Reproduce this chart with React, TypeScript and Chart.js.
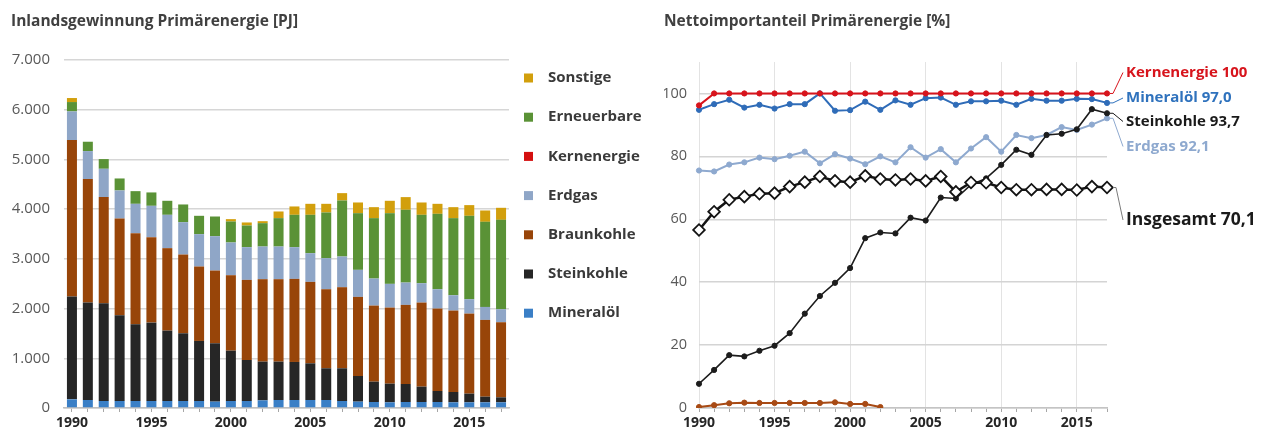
import { useEffect, useRef } from "react";
import { Chart, registerables } from "chart.js";

Chart.register(...registerables);

const FONT = "'Open Sans', sans-serif";

// ---------- Left chart: Inlandsgewinnung Primärenergie [PJ] ----------
const years = [1990, 1991, 1992, 1993, 1994, 1995, 1996, 1997, 1998, 1999, 2000, 2001, 2002, 2003, 2004, 2005, 2006, 2007, 2008, 2009, 2010, 2011, 2012, 2013, 2014, 2015, 2016, 2017];

const mineraloel = [174, 161, 141, 141, 141, 141, 141, 141, 141, 128, 141, 141, 154, 161, 161, 161, 161, 141, 128, 121, 114, 121, 121, 121, 114, 114, 114, 114];
const steinkohle = [2068, 1960, 1966, 1725, 1544, 1577, 1416, 1362, 1208, 1174, 1013, 825, 779, 772, 765, 738, 638, 658, 516, 409, 376, 362, 309, 221, 208, 175, 114, 101];
const braunkohle = [3147, 2483, 2135, 1946, 1832, 1718, 1658, 1584, 1497, 1463, 1517, 1611, 1658, 1658, 1671, 1638, 1590, 1631, 1591, 1530, 1530, 1591, 1691, 1658, 1638, 1610, 1544, 1510];
const erdgas = [577, 564, 570, 564, 590, 631, 671, 651, 651, 691, 658, 658, 657, 657, 638, 577, 624, 617, 544, 544, 477, 449, 389, 389, 308, 289, 262, 262];
const kernenergie = [0, 0, 0, 0, 0, 0, 0, 0, 0, 0, 0, 0, 0, 0, 0, 0, 0, 0, 0, 0, 0, 0, 0, 0, 0, 0, 0, 0];
const erneuerbare = [188, 188, 195, 241, 255, 269, 282, 356, 369, 396, 423, 436, 470, 571, 651, 772, 920, 1127, 1140, 1215, 1422, 1464, 1376, 1517, 1551, 1678, 1711, 1798];
const sonstige = [81, 0, 0, 0, 0, 0, 0, 0, 0, 0, 47, 61, 40, 134, 168, 221, 174, 148, 215, 221, 249, 255, 248, 201, 221, 215, 228, 242];

const leftYTicks = [0, 1000, 2000, 3000, 4000, 5000, 6000, 7000];

// ---------- Right chart: Nettoimportanteil Primärenergie [%] ----------
const importKern = [96.2, 100, 100, 100, 100, 100, 100, 100, 100, 100, 100, 100, 100, 100, 100, 100, 100, 100, 100, 100, 100, 100, 100, 100, 100, 100, 100, 100];
const importMineraloel = [94.8, 96.6, 98.0, 95.5, 96.4, 95.2, 96.6, 96.6, 100, 94.5, 94.7, 97.4, 94.8, 97.8, 96.4, 98.5, 98.7, 96.4, 97.5, 97.5, 97.7, 96.4, 98.3, 97.7, 97.7, 98.3, 98.2, 97.0];
const importErdgas = [75.5, 75.2, 77.4, 78.1, 79.6, 79.1, 80.2, 81.5, 77.8, 80.7, 79.3, 77.5, 80.0, 78.1, 82.9, 79.6, 82.3, 78.1, 82.5, 86.1, 81.5, 86.8, 85.8, 86.8, 89.3, 88.4, 90.1, 92.1];
const importSteinkohle = [7.7, 12.1, 16.8, 16.4, 18.2, 19.8, 23.8, 30.0, 35.6, 39.8, 44.5, 54.0, 55.8, 55.5, 60.5, 59.6, 66.9, 66.6, 71.0, 73.0, 77.3, 82.1, 80.5, 86.8, 87.2, 88.6, 95.0, 93.7];
const importInsgesamt = [56.6, 62.4, 66.2, 67.2, 68.1, 68.3, 70.4, 71.8, 73.6, 72.2, 71.8, 73.8, 72.8, 72.5, 72.8, 72.2, 73.6, 68.7, 71.7, 71.6, 70.1, 69.4, 69.4, 69.5, 69.5, 69.3, 70.4, 70.1];
const importBraunkohle = [0.3, 0.9, 1.5, 1.7, 1.6, 1.6, 1.6, 1.6, 1.6, 1.8, 1.3, 1.3, 0.3, null, null, null, null, null, null, null, null, null, null, null, null, null, null, null];

const endLabelSeries = ["Kernenergie", "Mineralöl", "Steinkohle", "Erdgas", "Insgesamt"];
const endLabelTexts = ["Kernenergie 100", "Mineralöl 97,0", "Steinkohle 93,7", "Erdgas 92,1", "Insgesamt 70,1"];

const formatDE = (v: number) => String(v).replace(/\B(?=(\d{3})+(?!\d))/g, ".");

const sideLegendPlugin = {
  id: "sideLegend",
  afterDraw(chart: any) {
    const { ctx, chartArea } = chart;
    const ds = chart.data.datasets.slice().reverse();
    ctx.save();
    ctx.font = `bold 15px ${FONT}`;
    ctx.textBaseline = "middle";
    ctx.textAlign = "left";
    ds.forEach((d: any, i: number) => {
      const y = chartArea.top + 18 + i * 39.2;
      ctx.fillStyle = d.backgroundColor;
      ctx.fillRect(chartArea.right + 15, y - 4.5, 9, 9);
      ctx.fillStyle = "#3a3a3a";
      ctx.fillText(d.label, chartArea.right + 39, y);
    });
    ctx.restore();
  },
};

const endLabelStyle: Record<string, { color: string; line: string; dy: number; size: number }> = {
  Kernenergie: { color: "#d7141c", line: "#d7141c", dy: 10.5, size: 15 },
  "Mineralöl": { color: "#2f72bd", line: "#2f72bd", dy: 36, size: 15 },
  Steinkohle: { color: "#1a1a1a", line: "#1a1a1a", dy: 59.5, size: 15 },
  Erdgas: { color: "#8ea9cf", line: "#8ea9cf", dy: 84.5, size: 15 },
  Insgesamt: { color: "#1a1a1a", line: "#7a7a7a", dy: 158, size: 17.5 },
};

const endLabelPlugin = {
  id: "endLabels",
  afterDraw(chart: any) {
    const { ctx, chartArea } = chart;
    ctx.save();
    endLabelSeries.forEach((name, k) => {
      const idx = chart.data.datasets.findIndex((d: any) => d.label === name);
      if (idx < 0) return;
      const meta = chart.getDatasetMeta(idx);
      const pt = meta.data[meta.data.length - 1];
      const st = endLabelStyle[name];
      const xe = pt.x;
      const ye = pt.y;
      const xt = chartArea.right + 19;
      const yt = chartArea.top + st.dy;
      const start = name === "Insgesamt" ? 6 : 3;
      ctx.strokeStyle = st.line;
      ctx.lineWidth = 1;
      ctx.beginPath();
      ctx.moveTo(xe + start, ye);
      ctx.lineTo(xe + start + 3, ye);
      ctx.lineTo(xt - 3, yt);
      ctx.stroke();
      ctx.font = `bold ${st.size}px ${FONT}`;
      ctx.fillStyle = st.color;
      ctx.textBaseline = "middle";
      ctx.textAlign = "left";
      ctx.fillText(endLabelTexts[k], xt, yt);
    });
    ctx.restore();
  },
};

function LeftChart() {
  const ref = useRef<HTMLCanvasElement | null>(null);
  useEffect(() => {
    if (!ref.current) return;
    const chart = new Chart(ref.current, {
      type: "bar",
      data: {
        labels: years.map(String),
        datasets: [
          { label: "Mineralöl", data: mineraloel, backgroundColor: "#3a7fc6" },
          { label: "Steinkohle", data: steinkohle, backgroundColor: "#262626" },
          { label: "Braunkohle", data: braunkohle, backgroundColor: "#984509" },
          { label: "Erdgas", data: erdgas, backgroundColor: "#8fa6c7" },
          { label: "Kernenergie", data: kernenergie, backgroundColor: "#d40f0f" },
          { label: "Erneuerbare", data: erneuerbare, backgroundColor: "#5a9236" },
          { label: "Sonstige", data: sonstige, backgroundColor: "#d29f0c" },
        ],
      },
      options: {
        animation: false,
        responsive: true,
        maintainAspectRatio: false,
        layout: { padding: { left: 11, right: 156, top: 0, bottom: 0 } },
        datasets: { bar: { barPercentage: 0.63, categoryPercentage: 1.0, borderWidth: 0 } },
        plugins: {
          legend: { display: false },
          tooltip: { enabled: false },
          title: {
            display: true,
            text: "Inlandsgewinnung Primärenergie [PJ]",
            align: "start",
            color: "#404040",
            font: { family: FONT, size: 15.5, weight: "bold" },
            padding: { top: 12.7, bottom: 28.7 },
          },
        },
        scales: {
          x: {
            stacked: true,
            offset: true,
            grid: { display: true, offset: false, color: "transparent", tickColor: "#a6a6a6", tickLength: 4, drawTicks: true },
            border: { display: true, color: "#bfbfbf", width: 1.5 },
            ticks: {
              autoSkip: false,
              maxRotation: 0,
              padding: 3,
              color: "#262626",
              font: { family: FONT, size: 14, weight: "bold" },
              callback: (_v: any, i: number) => (years[i] % 5 === 0 ? String(years[i]) : ""),
            },
            afterFit: (s: any) => { s.height = 26; },
          },
          y: {
            stacked: true,
            min: 0,
            max: 7000,
            afterBuildTicks: (s: any) => { s.ticks = leftYTicks.map((v) => ({ value: v })); },
            grid: { color: "#d6d6d6", lineWidth: 1.5, drawTicks: false },
            border: { display: false },
            ticks: {
              padding: 14,
              color: "#595959",
              font: { family: FONT, size: 15 },
              callback: (v: any) => formatDE(Number(v)),
            },
            afterFit: (s: any) => { s.width = 53; },
          },
        },
      },
      plugins: [sideLegendPlugin],
    } as any);
    return () => chart.destroy();
  }, []);
  return (
    <div style={{ position: "absolute", left: 0, top: 0, width: 665, height: 434 }}>
      <canvas ref={ref} />
    </div>
  );
}

function RightChart() {
  const ref = useRef<HTMLCanvasElement | null>(null);
  useEffect(() => {
    if (!ref.current) return;
    const pointSeries = (label: string, data: any[], color: string, width = 2) => ({
      label,
      data,
      borderColor: color,
      backgroundColor: color,
      borderWidth: width,
      pointRadius: 2.6,
      pointBackgroundColor: color,
      pointBorderColor: color,
      pointBorderWidth: 1,
      tension: 0,
      spanGaps: false,
    });
    const chart = new Chart(ref.current, {
      type: "line",
      data: {
        labels: years.map(String),
        datasets: [
          {
            label: "Insgesamt",
            data: importInsgesamt,
            borderColor: "#141414",
            backgroundColor: "#ffffff",
            borderWidth: 2.5,
            pointStyle: "rectRot",
            pointRadius: 5.8,
            pointBackgroundColor: "#ffffff",
            pointBorderColor: "#141414",
            pointBorderWidth: 1.8,
            tension: 0,
          },
          pointSeries("Kernenergie", importKern, "#d7141c"),
          pointSeries("Mineralöl", importMineraloel, "#2f6cb8"),
          pointSeries("Steinkohle", importSteinkohle, "#1c1c1c", 1.6),
          pointSeries("Erdgas", importErdgas, "#8ea9cf"),
          pointSeries("Braunkohle", importBraunkohle, "#a84a14"),
        ],
      },
      options: {
        animation: false,
        responsive: true,
        maintainAspectRatio: false,
        layout: { padding: { left: 24, right: 154, top: 0, bottom: 0 } },
        plugins: {
          legend: { display: false },
          tooltip: { enabled: false },
          title: {
            display: true,
            text: "Nettoimportanteil Primärenergie [%]",
            align: "start",
            color: "#404040",
            font: { family: FONT, size: 15.5, weight: "bold" },
            padding: { top: 12.7, bottom: 30.7 },
          },
        },
        scales: {
          x: {
            offset: false,
            grid: {
              display: true,
              color: (c: any) => (c.index !== undefined && years[c.index] % 5 === 0 ? "#e3e3e3" : "transparent"),
              tickColor: "#a6a6a6",
              tickLength: 4,
              drawTicks: true,
            },
            border: { display: true, color: "#c4c4c4", width: 1.5 },
            ticks: {
              autoSkip: false,
              maxRotation: 0,
              padding: 3,
              color: "#262626",
              font: { family: FONT, size: 14, weight: "bold" },
              callback: (_v: any, i: number) => (years[i] % 5 === 0 ? String(years[i]) : ""),
            },
            afterFit: (s: any) => { s.height = 26; },
          },
          y: {
            min: 0,
            max: 110,
            grid: { color: "#d4d4d4", lineWidth: 1.5, drawTicks: false },
            border: { display: false },
            ticks: {
              stepSize: 20,
              includeBounds: false,
              padding: 12,
              color: "#595959",
              font: { family: FONT, size: 14.5 },
            },
            afterFit: (s: any) => { s.width = 35; },
          },
        },
      },
      plugins: [endLabelPlugin],
    } as any);
    return () => chart.destroy();
  }, []);
  return (
    <div style={{ position: "absolute", left: 640, top: 0, width: 621, height: 434 }}>
      <canvas ref={ref} />
    </div>
  );
}

export default function App() {
  return (
    <div style={{ position: "absolute", left: 0, top: 0, width: 1261, height: 434, background: "#ffffff" }}>
      <LeftChart />
      <RightChart />
    </div>
  );
}
